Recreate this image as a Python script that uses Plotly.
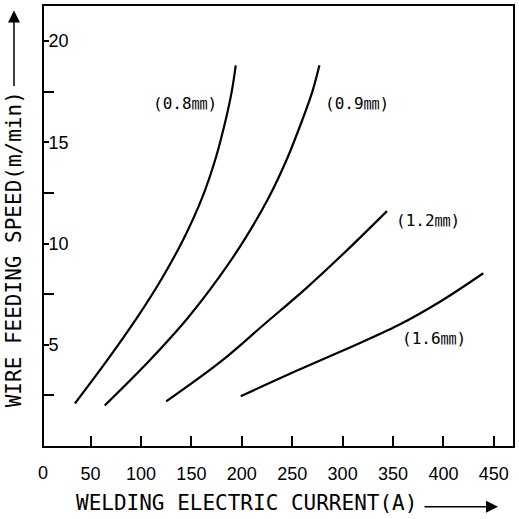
import plotly.graph_objects as go

# Data
current_08 = [34.5, 66, 95.6, 121, 143, 161, 174, 184, 190, 194]
speed_08 = [2.1, 4.2, 6.3, 8.3, 10.3, 12.3, 14.2, 16.1, 17.5, 18.8]

current_09 = [64, 108, 146, 177, 204, 227, 245, 260, 270, 277]
speed_09 = [2.0, 4.2, 6.3, 8.3, 10.3, 12.3, 14.2, 16.1, 17.5, 18.8]

current_12 = [125, 180, 222, 264, 305, 344]
speed_12 = [2.2, 4.2, 6.0, 7.8, 9.7, 11.6]

current_16 = [199, 256, 305.5, 355, 399, 439.5]
speed_16 = [2.46, 3.75, 4.83, 5.96, 7.2, 8.53]

series_names = ["(0.8㎜)", "(0.9㎜)", "(1.2㎜)", "(1.6㎜)"]

x_origin_label = "0"
x_tick_vals = [50, 100, 150, 200, 250, 300, 350, 400, 450]
x_tick_text = ["50", "100", "150", "200", "250", "300", "350", "400", "450"]
y_tick_vals = [5, 10, 15, 20]
y_tick_text = ["5", "10", "15", "20"]
y_minor_vals = [2.5, 7.5, 12.5, 17.5]

x_title = "WELDING ELECTRIC CURRENT(A)"
y_title = "WIRE FEEDING SPEED(m/min)"

fig = go.Figure()
for xs, ys, name in [(current_08, speed_08, series_names[0]),
                     (current_09, speed_09, series_names[1]),
                     (current_12, speed_12, series_names[2]),
                     (current_16, speed_16, series_names[3])]:
    fig.add_trace(go.Scatter(x=xs, y=ys, mode="lines", name=name,
                             line=dict(color="black", width=2.2, shape="spline", smoothing=1.0),
                             showlegend=False, hoverinfo="skip"))

tick_font = dict(family="Liberation Sans Narrow, Arial Narrow, Liberation Sans", size=18, color="black")
label_font = dict(family="DejaVu Sans Mono, Noto Sans CJK KR", size=16, color="black")
title_font = dict(family="DejaVu Sans Mono", size=21, color="black")

fig.update_layout(
    width=519, height=519,
    margin=dict(l=44, r=4, t=5, b=73),
    paper_bgcolor="white", plot_bgcolor="white",
    xaxis=dict(range=[3.8, 469], tickmode="array", tickvals=x_tick_vals, ticktext=x_tick_text,
               ticks="inside", ticklen=10, tickwidth=1.5, tickcolor="black",
               showline=True, linecolor="black", linewidth=2, mirror=True,
               showgrid=False, zeroline=False, tickfont=tick_font, ticklabelstandoff=10),
    yaxis=dict(range=[0, 21.73], tickmode="array", tickvals=y_tick_vals, ticktext=y_tick_text,
               ticks="inside", ticklen=5, tickwidth=1.5, tickcolor="black",
               ticklabelposition="inside",
               minor=dict(tickmode="array", tickvals=y_minor_vals, ticks="inside",
                          ticklen=10, tickwidth=1.5, tickcolor="black"),
               showline=True, linecolor="black", linewidth=2, mirror=True,
               showgrid=False, zeroline=False, tickfont=tick_font),
)

# origin label of x axis (drawn at the left edge of the axis)
fig.add_annotation(xref="paper", yref="paper", x=-0.003, y=-0.061, text=x_origin_label,
                   showarrow=False, font=tick_font, xanchor="center", yanchor="middle")

# curve labels
for (lx, ly, txt) in [(144, 16.9, series_names[0]), (314, 16.9, series_names[1]),
                      (385, 11.14, series_names[2]), (391, 5.32, series_names[3])]:
    fig.add_annotation(x=lx, y=ly, text=txt, showarrow=False, font=label_font,
                       xanchor="center", yanchor="middle")

# axis titles
fig.add_annotation(xref="paper", yref="paper", x=0.432, y=-0.130, text=x_title,
                   showarrow=False, font=title_font, xanchor="center", yanchor="middle")
fig.add_annotation(xref="paper", yref="paper", x=-0.064, y=0.447, text=y_title,
                   showarrow=False, font=title_font, textangle=-90,
                   xanchor="center", yanchor="middle")
# arrows
fig.add_annotation(xref="paper", yref="paper", x=0.968, y=-0.138, ax=-75, ay=0, text="",
                   showarrow=True, arrowhead=2, arrowsize=1.6, arrowwidth=1.5, arrowcolor="black")
fig.add_annotation(xref="paper", yref="paper", x=-0.064, y=0.99, ax=0, ay=77, text="",
                   showarrow=True, arrowhead=2, arrowsize=1.6, arrowwidth=1.5, arrowcolor="black")

fig.write_html("out.html", config={"displayModeBar": False},
               post_script="document.body.style.margin='0';document.body.style.overflow='hidden';")
